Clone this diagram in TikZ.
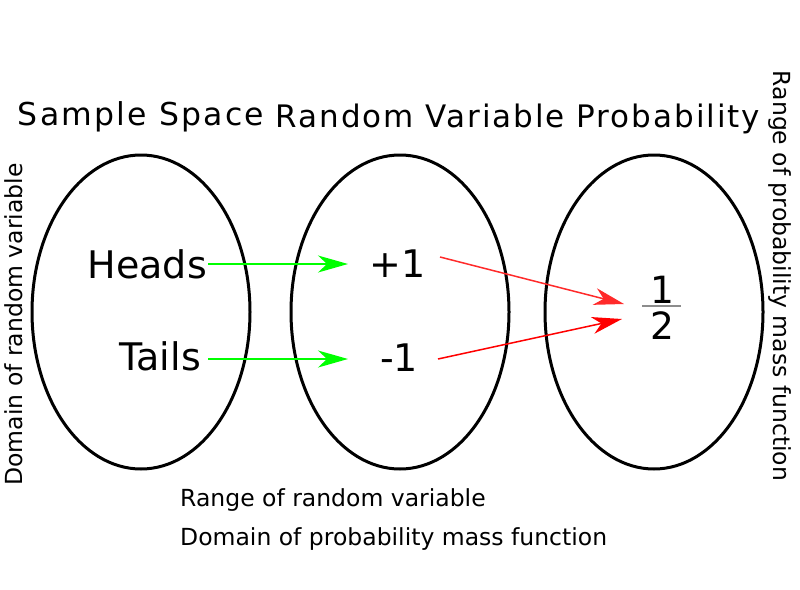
\documentclass[tikz,border=0pt]{standalone}
\usepackage{fontspec}
\setmainfont{DejaVu Sans}
\newfontfamily\titlefontA[LetterSpace=7]{DejaVu Sans}
\newfontfamily\titlefontB[LetterSpace=6.3]{DejaVu Sans}
\usetikzlibrary{shapes.geometric,arrows.meta}
\definecolor{myred}{HTML}{FF2A2A}
\definecolor{mygreen}{HTML}{00FF00}
\tikzset{
  setoval/.style={draw=black, line width=3pt, ellipse, inner sep=0pt,
    minimum width=218pt, minimum height=314pt},
  bigtext/.style={inner sep=0pt, font=\fontsize{38}{44}\selectfont},
  fractext/.style={inner sep=0pt, font=\fontsize{37.5}{42}\selectfont},
  smalltext/.style={inner sep=0pt, font=\fontsize{23.5}{28}\selectfont},
  greenarrow/.style={draw=mygreen, line width=1.5pt,
    -{Stealth[length=30pt, width=17pt, inset=9pt]}},
  redarrow/.style={line width=1.5pt,
    -{Stealth[length=30pt, width=17pt, inset=9pt]}},
}
\begin{document}
\begin{tikzpicture}[x=1pt, y=-1pt]
\useasboundingbox (0,0) rectangle (800,589);
% titles
\node[inner sep=0pt, anchor=base, font=\titlefontA\fontsize{31.5}{36}\selectfont] (t1) at (141,125) {Sample Space};
\node[inner sep=0pt, anchor=base, font=\titlefontB\fontsize{31}{35}\selectfont] (t2) at (518,127) {Random Variable Probability};
% ellipses
\node[setoval] (e1) at (141,312) {};
\node[setoval] (e2) at (400,312) {};
\node[setoval] (e3) at (654,312) {};
% elements
\node[bigtext, anchor=base east] (heads) at (207,278) {Heads};
\node[bigtext, anchor=base east] (tails) at (201,370) {Tails};
\node[bigtext, anchor=base] (plus) at (398,277) {+1};
\node[bigtext, anchor=base] (minus) at (399,371) {-1};
\node[fractext, anchor=base] (one) at (662,303.5) {1};
\node[fractext, anchor=base] (two) at (662,339) {2};
\coordinate (fl) at (642,306);
\coordinate (fr) at (681,306);
\draw[line width=1.5pt, draw=black!45] (fl) -- (fr);
% arrow end points
\coordinate (hs) at (208,264);
\coordinate (he) at (348,264);
\coordinate (ts) at (208,359);
\coordinate (te) at (348,359);
\coordinate (ps) at (440,257);
\coordinate (pe) at (624,304);
\coordinate (ms) at (438,359);
\coordinate (me) at (622,319);
\draw[greenarrow] (hs) -- (he);
\draw[greenarrow] (ts) -- (te);
\draw[redarrow, draw=myred] (ps) -- (pe);
\draw[redarrow, draw=red] (ms) -- (me);
% side labels
\node[smalltext, rotate=90, anchor=base] (dom) at (22,324.5) {Domain of random variable};
\node[smalltext, rotate=-90, anchor=base] (rng) at (773,276) {Range of probability mass function};
% bottom labels
\node[smalltext, anchor=base west] (b1) at (180,506.5) {Range of random variable};
\node[smalltext, anchor=base west] (b2) at (180,545) {Domain of probability mass function};
\end{tikzpicture}
\end{document}
